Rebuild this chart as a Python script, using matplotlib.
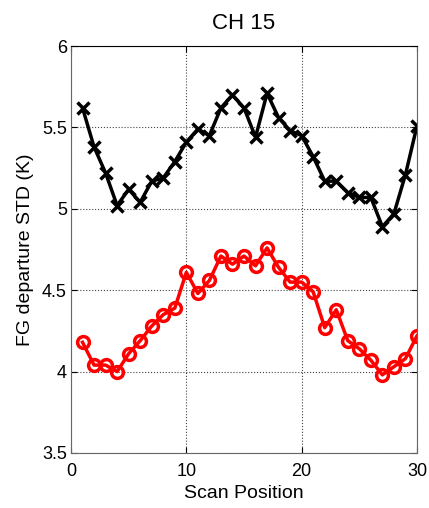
import numpy as np
import matplotlib.pyplot as plt

plt.rcParams['font.family'] = ['Liberation Sans', 'DejaVu Sans']

# Données
scan_pos = np.arange(1, 31)
std_black = [5.62, 5.38, 5.22, 5.02, 5.12, 5.04, 5.17, 5.19, 5.29, 5.41,
             5.49, 5.45, 5.62, 5.70, 5.62, 5.44, 5.71, 5.56, 5.48, 5.45,
             5.32, 5.17, 5.17, 5.10, 5.07, 5.07, 4.89, 4.97, 5.21, 5.51]
std_red = [4.18, 4.04, 4.04, 4.00, 4.11, 4.19, 4.28, 4.35, 4.39, 4.61,
           4.48, 4.56, 4.71, 4.66, 4.71, 4.65, 4.76, 4.64, 4.55, 4.55,
           4.49, 4.27, 4.38, 4.19, 4.14, 4.07, 3.98, 4.03, 4.08, 4.22]

fig = plt.figure(figsize=(4.29, 5.08), dpi=100)
ax = fig.add_axes([0.1655, 0.1083, 0.8065, 0.801])

ax.plot(scan_pos, std_black, color='k', lw=2.5, marker='x', ms=8, mew=2.5)
ax.plot(scan_pos, std_red, color='r', lw=2.5, marker='o', ms=8.5, mew=2.5,
        mfc='none')

ax.set_xlim(0, 30)
ax.set_ylim(3.5, 6)
ax.set_xticks([0, 10, 20, 30])
ax.set_yticks([3.5, 4, 4.5, 5, 5.5, 6])
ax.set_yticklabels(['3.5', '4', '4.5', '5', '5.5', '6'])
ax.grid(True, linestyle=':', color='#444444', lw=0.8)
ax.tick_params(direction='in', labelsize=13, top=True, right=True, length=4)
ax.tick_params(axis='x', pad=7)
ax.tick_params(axis='y', pad=3)
for side in ['bottom', 'right', 'left']:
    ax.spines[side].set_color('#666666')
ax.set_xlabel('Scan Position', fontsize=14, labelpad=4)
ax.set_ylabel('FG departure STD (K)', fontsize=14, labelpad=6)
ax.set_title('CH 15', fontsize=16, pad=12)

fig.savefig('out.png', dpi=100)
